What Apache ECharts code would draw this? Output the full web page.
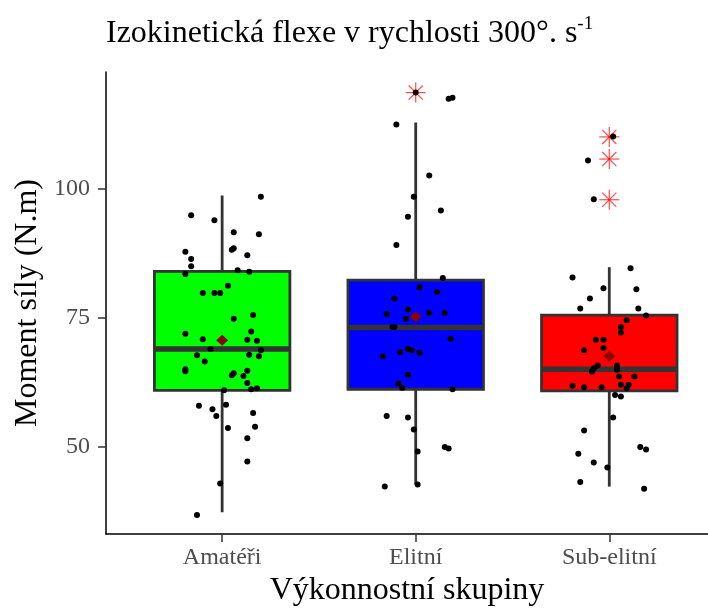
<!DOCTYPE html>
<html>
<head>
<meta charset="utf-8">
<script src="https://cdn.jsdelivr.net/npm/echarts@6/dist/echarts.min.js"></script>
<style>html,body{margin:0;padding:0;background:#fff}#c{width:708px;height:615px}</style>
</head>
<body>
<div id="c"></div>
<script>
const categories = ['Amatéři', 'Elitní', 'Sub-elitní'];
const boxColors = ['#00FF00', '#0000FF', '#FF0000'];
const yTicks = [50, 75, 100];

// box statistics
const whiskerLow = [37.2, 42.6, 42.2];
const q1 = [60.9, 61.1, 60.8];
const median = [68.9, 73.1, 65.0];
const q3 = [84.0, 82.3, 75.5];
const whiskerHigh = [98.7, 112.9, 84.8];
const means = [70.6, 75.2, 67.5];
const outlierGroup = [2, 3, 3, 3];
const outlierValue = [118.7, 110.1, 105.8, 97.9];

// jittered observations (value and horizontal jitter in category units)
const amateriValues = [98.5,94.9,93.9,91.6,91.2,88.5,88.2,87.8,87.1,86.4,85.0,83.5,84.2,83.9,81.2,79.8,79.8,79.8,74.8,75.5,72.3,71.9,70.8,70.7,70.5,68.9,68.7,67.7,67.8,67.5,66.5,65.0,64.6,64.7,64.2,63.8,63.7,62.3,61.1,61.3,60.9,57.9,57.2,58.1,55.9,56.5,53.6,53.8,51.6,47.1,42.8,36.7];
const amateriJitter = [0.20,-0.16,-0.04,0.06,0.19,0.06,0.05,-0.19,0.13,-0.16,-0.16,-0.19,0.08,0.14,0.03,-0.10,-0.04,-0.01,0.06,0.16,0.15,-0.19,-0.10,0.13,0.18,-0.06,0.20,-0.13,0.14,0.19,-0.09,-0.19,-0.19,0.13,0.06,0.05,0.11,0.13,0.15,0.18,0.01,-0.12,-0.05,0.02,-0.03,0.16,0.03,0.17,0.13,0.13,-0.01,-0.13];
const elitniValues = [118.7,117.5,117.7,112.5,102.6,98.5,95.8,94.6,89.1,82.7,80.9,80.0,78.7,76.6,75.7,75.9,75.9,74.8,73.2,73.2,70.9,68.9,68.7,68.3,68.2,67.5,63.9,62.2,61.4,61.1,55.9,55.6,53.3,49.0,49.9,49.6,42.2,42.6];
const elitniJitter = [0,0.17,0.19,-0.10,0.07,-0.01,0.13,-0.04,-0.10,0.14,0.02,0.11,-0.11,-0.04,-0.15,0.07,0.15,-0.05,-0.12,-0.11,0.18,-0.04,-0.02,-0.08,0.02,-0.17,-0.04,-0.09,-0.07,0.19,-0.15,-0.04,-0.01,0.01,0.15,0.17,-0.16,0.01];
const subElitniValues = [110.2,105.5,98.0,84.6,82.8,80.7,80.5,78.7,76.8,76.8,75.4,74.5,73.2,72.1,70.7,70.7,69.1,68.7,65.7,65.2,64.5,65.7,64.9,63.6,63.6,61.8,61.5,61.5,62.0,62.0,61.3,60.0,59.7,55.6,53.1,49.9,49.4,48.6,46.9,45.9,43.1,41.8];
const subElitniJitter = [0.02,-0.11,-0.08,0.11,-0.19,-0.03,0.14,-0.10,-0.15,0.15,0.19,0.09,0.06,0.06,-0.07,-0.03,-0.03,-0.13,-0.06,-0.08,-0.09,0.04,0.04,0.05,0.13,-0.19,-0.13,-0.04,0.06,0.10,0.09,0.03,0.06,0.02,-0.13,0.16,0.19,-0.16,-0.08,-0.01,-0.15,0.18];

const groupValues = [amateriValues, elitniValues, subElitniValues];
const groupJitter = [amateriJitter, elitniJitter, subElitniJitter];

const serif = 'Liberation Serif';

const boxData = categories.map((c, i) => [i + 1, whiskerLow[i], q1[i], median[i], q3[i], whiskerHigh[i], i]);
const pointData = [];
groupValues.forEach((vals, g) => vals.forEach((v, k) => pointData.push([g + 1 + groupJitter[g][k], v])));
const meanData = means.map((m, i) => [i + 1, m]);
const outlierData = outlierValue.map((v, i) => [outlierGroup[i], v]);

const chart = echarts.init(document.getElementById('c'), null, {renderer: 'canvas'});
chart.setOption({
  animation: false,
  backgroundColor: '#fff',
  title: {
    text: '{a|Izokinetická flexe v rychlosti 300°. s}{b|-1}',
    left: 101, top: 10,
    textStyle: {
      fontWeight: 'normal',
      rich: {
        a: {fontFamily: serif, fontSize: 32, fontWeight: 'normal', color: '#000', lineHeight: 38},
        b: {fontFamily: serif, fontSize: 19, fontWeight: 'normal', color: '#000', lineHeight: 20, verticalAlign: 'top'}
      }
    }
  },
  grid: {left: 106, right: 0, top: 72, bottom: 81},
  xAxis: {
    type: 'value', min: 0.4, max: 3.51,
    name: 'Výkonnostní skupiny', nameLocation: 'middle', nameGap: 37,
    nameTextStyle: {fontFamily: serif, fontSize: 32, color: '#000'},
    splitLine: {show: false},
    axisLine: {show: true, onZero: false, lineStyle: {color: '#000', width: 1.5}},
    axisTick: {show: true, customValues: [1, 2, 3], length: 8, lineStyle: {color: '#333', width: 1.5}},
    axisLabel: {customValues: [1, 2, 3], formatter: v => categories[Math.round(v) - 1] || '',
      fontFamily: serif, fontSize: 24, color: '#4D4D4D', margin: 12}
  },
  yAxis: {
    type: 'value', min: 33, max: 122.7,
    name: 'Moment síly (N.m)', nameLocation: 'middle', nameGap: 58, nameRotate: 90,
    nameTextStyle: {fontFamily: serif, fontSize: 32, color: '#000'},
    splitLine: {show: false},
    axisLine: {show: true, onZero: false, lineStyle: {color: '#000', width: 1.5}},
    axisTick: {show: true, customValues: yTicks, length: 8, lineStyle: {color: '#333', width: 1.5}},
    axisLabel: {customValues: yTicks, fontFamily: serif, fontSize: 24, color: '#4D4D4D', margin: 16}
  },
  series: [
    {
      type: 'custom',
      data: boxData,
      z: 2,
      renderItem: function (params, api) {
        const x = api.value(0);
        const low = api.coord([x, api.value(1)]);
        const p1 = api.coord([x, api.value(2)]);
        const pm = api.coord([x, api.value(3)]);
        const p3 = api.coord([x, api.value(4)]);
        const high = api.coord([x, api.value(5)]);
        const hw = api.size([0.35, 0])[0];
        const color = boxColors[api.value(6)];
        const stroke = '#333333';
        return {
          type: 'group',
          children: [
            {type: 'line', shape: {x1: low[0], y1: low[1], x2: high[0], y2: high[1]}, style: {stroke: stroke, lineWidth: 2.8}},
            {type: 'rect', shape: {x: p3[0] - hw, y: p3[1], width: 2 * hw, height: p1[1] - p3[1]}, style: {fill: color, stroke: stroke, lineWidth: 2.8}},
            {type: 'line', shape: {x1: pm[0] - hw, y1: pm[1], x2: pm[0] + hw, y2: pm[1]}, style: {stroke: stroke, lineWidth: 5.5}}
          ]
        };
      }
    },
    {
      type: 'custom',
      data: outlierData,
      z: 3,
      renderItem: function (params, api) {
        const p = api.coord([api.value(0), api.value(1)]);
        const r = 10, d = r * 0.7071;
        const st = {stroke: 'rgba(255,0,0,0.7)', lineWidth: 1.2};
        return {
          type: 'group',
          children: [
            {type: 'line', shape: {x1: p[0] - r, y1: p[1], x2: p[0] + r, y2: p[1]}, style: st},
            {type: 'line', shape: {x1: p[0], y1: p[1] - r, x2: p[0], y2: p[1] + r}, style: st},
            {type: 'line', shape: {x1: p[0] - d, y1: p[1] - d, x2: p[0] + d, y2: p[1] + d}, style: st},
            {type: 'line', shape: {x1: p[0] - d, y1: p[1] + d, x2: p[0] + d, y2: p[1] - d}, style: st}
          ]
        };
      }
    },
    {
      type: 'scatter',
      data: pointData,
      z: 4,
      symbol: 'circle',
      symbolSize: 6,
      itemStyle: {color: '#000', opacity: 1},
      silent: true
    },
    {
      type: 'scatter',
      data: meanData,
      z: 5,
      symbol: 'diamond',
      symbolSize: [12, 11],
      itemStyle: {color: '#8B0000', opacity: 1},
      silent: true
    }
  ]
});
</script>
</body>
</html>
